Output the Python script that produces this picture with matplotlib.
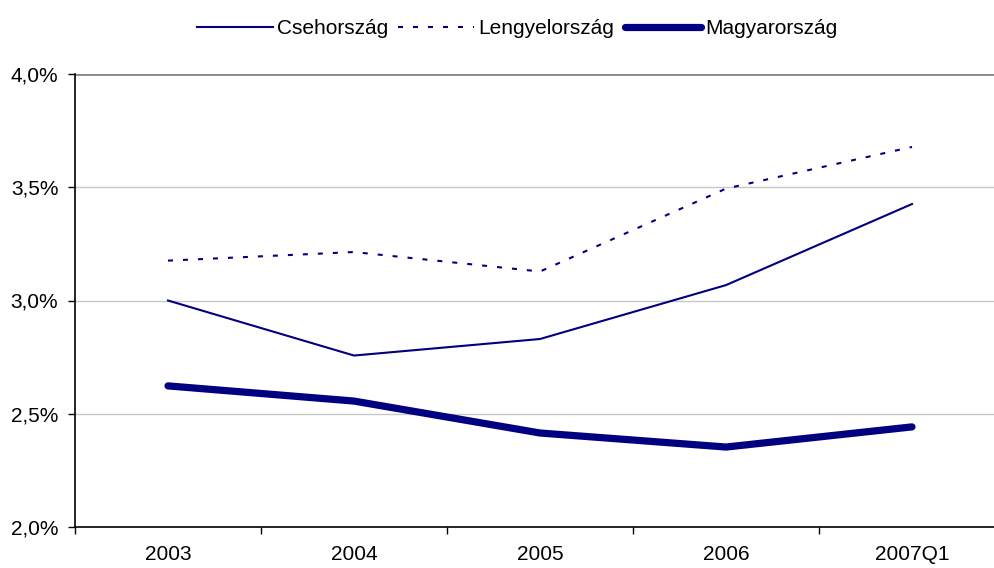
import numpy as np
import matplotlib
matplotlib.use("Agg")
import matplotlib.pyplot as plt
from matplotlib.ticker import FuncFormatter

plt.rcParams["font.family"] = ["Liberation Sans", "DejaVu Sans"]

categories = ["2003", "2004", "2005", "2006", "2007Q1"]
cseh = [3.00, 2.757, 2.83, 3.068, 3.426]
lengyel = [3.176, 3.214, 3.128, 3.494, 3.678]
magyar = [2.623, 2.556, 2.415, 2.353, 2.442]

navy = "#000080"
fs = 15

fig = plt.figure(figsize=(9.95, 5.68), dpi=100)
# axes runs a little past the right edge, as in the original
ax = fig.add_axes([75 / 995, 41 / 568, 930 / 995, 453 / 568])

x = np.arange(len(categories))
ax.plot(x, cseh, color=navy, lw=1.5, label="Csehország")
ax.plot(x, lengyel, color=navy, lw=1.5, ls=(0, (2.4, 4.8)), label="Lengyelország")
ax.plot(x, magyar, color=navy, lw=5.2, solid_capstyle="round", label="Magyarország")

ax.set_xlim(-0.5, len(categories) - 0.5)
ax.set_ylim(2.0, 4.0)
ax.set_yticks([2.0, 2.5, 3.0, 3.5, 4.0])
ax.yaxis.set_major_formatter(FuncFormatter(lambda v, p: f"{v:.1f}%".replace(".", ",")))

ax.set_xticks(x)
ax.set_xticklabels(categories)
ax.tick_params(axis="x", which="major", length=0, pad=13, labelsize=fs)
ax.set_xticks(np.arange(len(categories) + 1) - 0.5, minor=True)
ax.tick_params(axis="x", which="minor", length=5, width=1, color="black", direction="out")
ax.tick_params(axis="y", length=5, width=1, direction="out", labelsize=fs, pad=7)

for v in [2.5, 3.0, 3.5]:
    ax.axhline(v, color="#c8c8c8", lw=1, zorder=0)
ax.axhline(4.0, color="#888888", lw=2, zorder=0)

for s in ["top", "right"]:
    ax.spines[s].set_visible(False)
ax.spines["left"].set_color("black")
ax.spines["bottom"].set_color("black")
ax.spines["left"].set_linewidth(1.2)
ax.spines["bottom"].set_linewidth(1.2)

fig.legend(loc="upper center", bbox_to_anchor=(517 / 995, 1 - 7 / 568), ncol=3, frameon=False,
           fontsize=fs, handlelength=3.65, handletextpad=0.2, columnspacing=0.5,
           borderaxespad=0.2)

fig.savefig("out.png", dpi=100)
